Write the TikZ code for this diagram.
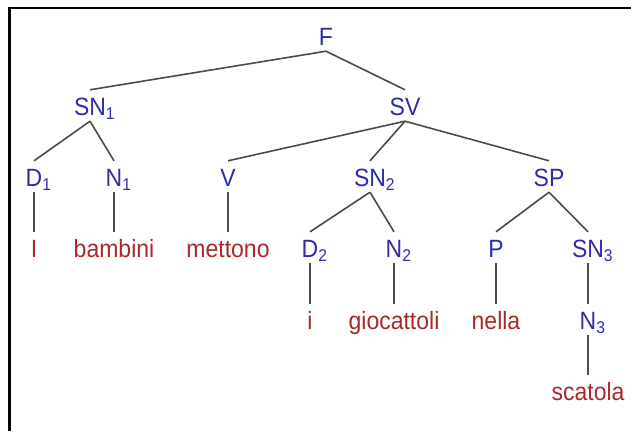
\documentclass[tikz,border=0pt]{standalone}
\usepackage{fontspec}
\setmainfont[FakeStretch=0.92]{Liberation Sans}
\definecolor{catblue}{RGB}{45,45,170}
\definecolor{wordred}{RGB}{170,40,40}
\definecolor{edgegray}{RGB}{75,75,75}
\newcommand{\sbs}[1]{\rlap{\raisebox{-4pt}{\fontsize{17}{17}\selectfont #1}}}
\begin{document}
\begin{tikzpicture}[x=1pt,y=-1pt,
  lbl/.style={inner xsep=0pt, inner ysep=1pt, text height=24pt, text depth=5pt, anchor=base, font=\fontsize{25}{25}\selectfont},
  cat/.style={lbl, text=catblue},
  word/.style={lbl, text=wordred},
  branch/.style={draw=edgegray, line width=1.6pt}]
\useasboundingbox (0,0) rectangle (631,431);
\draw[line width=2.5pt] (9.5,431) -- (9.5,8) -- (631,8);
% level 0
\node[cat] (F) at (326,45) {F};
% level 1
\node[cat] (SN1) at (90,115) {SN\sbs{1}};
\node[cat] (SV) at (405,115) {SV};
% level 2
\node[cat] (D1) at (34,186) {D\sbs{1}};
\node[cat] (N1) at (114,186) {N\sbs{1}};
\node[cat] (V) at (228,186) {V};
\node[cat] (SN2) at (370,186) {SN\sbs{2}};
\node[cat] (SP) at (549,186) {SP};
% level 3
\node[word] (w1) at (34,257) {I};
\node[word] (w2) at (114,257) {bambini};
\node[word] (w3) at (228,257) {mettono};
\node[cat] (D2) at (310,257) {D\sbs{2}};
\node[cat] (N2) at (394,257) {N\sbs{2}};
\node[cat] (P) at (496,257) {P};
\node[cat] (SN3) at (588,257) {SN\sbs{3}};
% level 4
\node[word] (w4) at (310,329) {i};
\node[word] (w5) at (394,329) {giocattoli};
\node[word] (w6) at (496,329) {nella};
\node[cat] (N3) at (588,329) {N\sbs{3}};
% level 5
\node[word] (w7) at (588,400) {scatola};
% branches
\draw[branch] (F.south) -- (SN1.north);
\draw[branch] (F.south) -- (SV.north);
\draw[branch] (SN1.south) -- (D1.north);
\draw[branch] (SN1.south) -- (N1.north);
\draw[branch] (SV.south) -- (V.north);
\draw[branch] (SV.south) -- (SN2.north);
\draw[branch] (SV.south) -- (SP.north);
\draw[branch] (D1.south) -- (w1.north);
\draw[branch] (N1.south) -- (w2.north);
\draw[branch] (V.south) -- (w3.north);
\draw[branch] (SN2.south) -- (D2.north);
\draw[branch] (SN2.south) -- (N2.north);
\draw[branch] (SP.south) -- (P.north);
\draw[branch] (SP.south) -- (SN3.north);
\draw[branch] (D2.south) -- (w4.north);
\draw[branch] (N2.south) -- (w5.north);
\draw[branch] (P.south) -- (w6.north);
\draw[branch] (SN3.south) -- (N3.north);
\draw[branch] (N3.south) -- (w7.north);
\end{tikzpicture}
\end{document}
